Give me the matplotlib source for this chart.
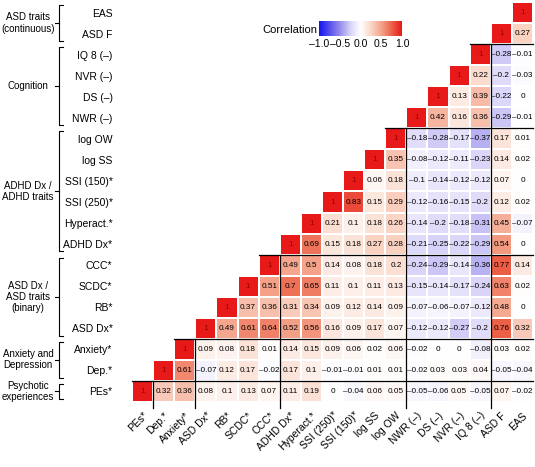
import numpy as np
import matplotlib
matplotlib.use("Agg")
from matplotlib import pyplot as plt
from matplotlib import transforms
from matplotlib.colors import LinearSegmentedColormap

plt.rcParams['font.family'] = ['Liberation Sans', 'DejaVu Sans']

# variables, bottom row / left column first
labels = ["PEs*", "Dep.*", "Anxiety*", "ASD Dx*", "RB*", "SCDC*", "CCC*",
          "ADHD Dx*", "Hyperact.*", "SSI (250)*", "SSI (150)*", "log SS", "log OW",
          "NWR (–)", "DS (–)", "NVR (–)", "IQ 8 (–)", "ASD F", "EAS"]

# upper triangle: each row starts at the diagonal
r_pes = [1, 0.32, 0.36, 0.08, 0.1, 0.13, 0.07, 0.11, 0.19, 0, -0.04, 0.06, 0.05, -0.05, -0.06, 0.05, -0.05, 0.07, -0.02]
r_dep = [1, 0.61, -0.07, 0.12, 0.17, -0.02, 0.17, 0.1, -0.01, -0.01, 0.01, 0.01, -0.02, 0.03, 0.03, 0.04, -0.05, -0.04]
r_anx = [1, 0.09, 0.08, 0.18, 0.01, 0.14, 0.15, 0.09, 0.06, 0.02, 0.06, -0.02, 0, 0, -0.08, 0.03, 0.02]
r_asddx = [1, 0.49, 0.61, 0.64, 0.52, 0.56, 0.16, 0.09, 0.17, 0.07, -0.12, -0.12, -0.27, -0.2, 0.76, 0.32]
r_rb = [1, 0.37, 0.36, 0.31, 0.34, 0.09, 0.12, 0.14, 0.09, -0.07, -0.06, -0.07, -0.12, 0.48, 0]
r_scdc = [1, 0.51, 0.7, 0.65, 0.11, 0.1, 0.11, 0.13, -0.15, -0.14, -0.17, -0.24, 0.63, 0.02]
r_ccc = [1, 0.49, 0.5, 0.14, 0.08, 0.18, 0.2, -0.24, -0.29, -0.14, -0.36, 0.77, 0.14]
r_adhd = [1, 0.69, 0.15, 0.18, 0.27, 0.28, -0.21, -0.25, -0.22, -0.29, 0.54, 0]
r_hyper = [1, 0.21, 0.1, 0.18, 0.26, -0.14, -0.2, -0.18, -0.31, 0.45, -0.07]
r_ssi250 = [1, 0.83, 0.15, 0.29, -0.12, -0.16, -0.15, -0.2, 0.12, 0.02]
r_ssi150 = [1, 0.06, 0.18, -0.1, -0.14, -0.12, -0.12, 0.07, 0]
r_logss = [1, 0.35, -0.08, -0.12, -0.11, -0.23, 0.14, 0.02]
r_logow = [1, -0.18, -0.28, -0.17, -0.37, 0.17, 0.01]
r_nwr = [1, 0.42, 0.16, 0.36, -0.29, -0.01]
r_ds = [1, 0.13, 0.39, -0.22, 0]
r_nvr = [1, 0.22, -0.2, -0.03]
r_iq8 = [1, -0.28, -0.01]
r_asdf = [1, 0.27]
r_eas = [1]
rows = [r_pes, r_dep, r_anx, r_asddx, r_rb, r_scdc, r_ccc, r_adhd, r_hyper,
        r_ssi250, r_ssi150, r_logss, r_logow, r_nwr, r_ds, r_nvr, r_iq8, r_asdf, r_eas]

# groups: (first index, last index, label)
groups = [(0, 0, "Psychotic\nexperiences"), (1, 2, "Anxiety and\nDepression"),
          (3, 6, "ASD Dx /\nASD traits\n(binary)"), (7, 12, "ADHD Dx /\nADHD traits"),
          (13, 16, "Cognition"), (17, 18, "ASD traits\n(continuous)")]

n = len(labels)
M = np.full((n, n), np.nan)
for i, r in enumerate(rows):
    M[i, i:] = r

# blue - white - red, a bit softer in the middle like the original
cmap = LinearSegmentedColormap.from_list("bwr_c", [
    (0.0, "#1414F0"), (0.25, "#968CEB"), (0.375, "#D7D2F8"), (0.5, "#FFFFFF"),
    (0.625, "#FAD7C8"), (0.75, "#F4A58C"), (0.875, "#EC644B"), (1.0, "#E81919")])

fig = plt.figure(figsize=(5.35, 4.67), dpi=100)
ax = fig.add_axes([132 / 535, 1 - 402 / 467, 401 / 535, 400 / 467])
ax.pcolormesh(np.arange(n + 1), np.arange(n + 1), np.ma.masked_invalid(M),
              cmap=cmap, vmin=-1, vmax=1, edgecolor='white', linewidth=0.3)

for i in range(n):
    for j in range(i, n):
        v = M[i, j]
        s = f"{v:g}".replace("-", "–")
        ax.text(j + 0.5, i + 0.5, s, ha='center', va='center', fontsize=5.9,
                color='#990000' if i == j else 'black')

# group separators
for g in groups[1:]:
    k = g[0]
    ax.plot([k - 1, n], [k, k], color='black', lw=0.9, clip_on=False)
    ax.plot([k, k], [-0.3, k], color='black', lw=0.9, clip_on=False)

ax.set_xlim(0, n)
ax.set_ylim(0, n)
ax.set_xticks(np.arange(n) + 0.5)
ax.set_xticklabels(labels, rotation=45, ha='right', rotation_mode='anchor', fontsize=7.5)
ax.set_yticks(np.arange(n) + 0.5)
ax.set_yticklabels(labels, fontsize=7.5)
ax.tick_params(length=0)
ax.tick_params(axis='y', pad=14)
ax.tick_params(axis='x', pad=6)
for sp in ax.spines.values():
    sp.set_visible(False)

# brackets on the left
tr = transforms.blended_transform_factory(fig.transFigure, ax.transData)
xb = 59 / 535
for a, b, name in groups:
    y0, y1 = a + 0.15, b + 0.85
    ax.plot([xb + 4 / 535, xb, xb, xb + 4 / 535], [y0, y0, y1, y1], color='black',
            lw=0.8, transform=tr, clip_on=False)
    ym = (a + b + 1) / 2
    ax.plot([xb, xb - 4 / 535], [ym, ym], color='black', lw=0.8, transform=tr, clip_on=False)
    ax.text(28 / 535, ym, name, transform=tr, ha='center', va='center', fontsize=7,
            linespacing=1.15)

# colour bar
cax = fig.add_axes([319 / 535, 1 - 36 / 467, 83 / 535, 15 / 467])
grad = np.linspace(-1, 1, 256).reshape(1, -1)
cax.imshow(grad, aspect='auto', cmap=cmap, extent=[-1, 1, 0, 1])
cax.set_yticks([])
cax.set_xticks([-1, -0.5, 0, 0.5, 1])
cax.set_xticklabels(["–1.0", "–0.5", "0.0", "0.5", "1.0"], fontsize=7.5)
cax.tick_params(length=0, pad=2)
for sp in cax.spines.values():
    sp.set_visible(False)
fig.text(317 / 535, 1 - 30 / 467, "Correlation", ha='right', va='center', fontsize=8)

fig.savefig("out.png", dpi=100)
